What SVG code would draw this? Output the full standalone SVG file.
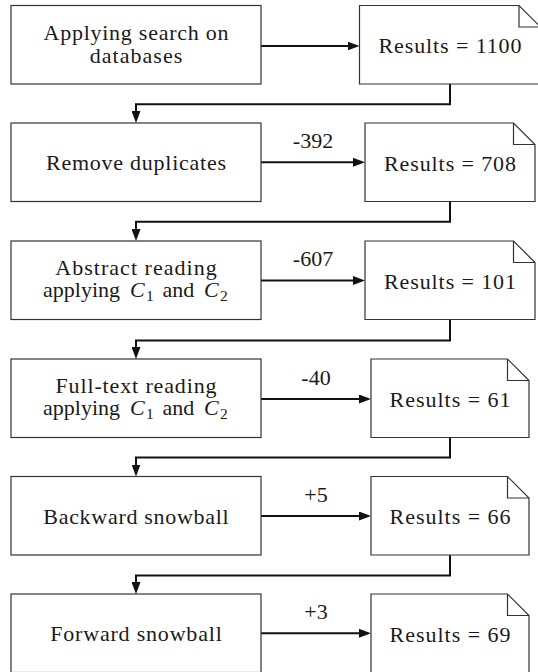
<svg xmlns="http://www.w3.org/2000/svg" width="538" height="672" viewBox="0 0 538 672">
  <style>
    .box { fill: #ffffff; stroke: #333333; stroke-width: 1.2; }
    .doc { fill: #ffffff; stroke: #333333; stroke-width: 1.2; stroke-linejoin: miter; }
    .fold { fill: none; stroke: #333333; stroke-width: 1.2; }
    .wire { fill: none; stroke: #111111; stroke-width: 2; marker-end: url(#head); }
    .t { font-family: "Liberation Serif", Tinos, "Noto Serif", "DejaVu Serif", Times, serif; font-size: 22px; fill: #1a1a1a; }
    .mid { text-anchor: middle; }
    .it { font-style: italic; }
    .sub { font-size: 15.5px; }
  </style>
  <defs>
    <marker id="head" markerUnits="userSpaceOnUse" markerWidth="12" markerHeight="9" refX="2" refY="4.5" orient="auto">
      <path d="M0,0 L12,4.5 L0,9 z" fill="#111111"/>
    </marker>
  </defs>

  <rect width="538" height="672" fill="#ffffff"/>

  <!-- connectors -->
  <g id="connectors">
    <!-- process -> result -->
    <path class="wire" d="M261,46 H349.5"/>
    <path class="wire" d="M261,162.3 H355"/>
    <path class="wire" d="M261,280.5 H355"/>
    <path class="wire" d="M261,399 H361"/>
    <path class="wire" d="M261,516 H361"/>
    <path class="wire" d="M261,633.3 H361"/>
    <!-- result -> next process -->
    <path class="wire" d="M450,84 V104.3 H136 V113"/>
    <path class="wire" d="M450,201.5 V221.7 H136 V231"/>
    <path class="wire" d="M450,319.5 V340.5 H136 V349"/>
    <path class="wire" d="M450,437.5 V457.5 H136 V466.5"/>
    <path class="wire" d="M450,555 V575.5 H136 V584"/>
    <!-- edge labels -->
    <text class="t mid" x="313" y="148">-392</text>
    <text class="t mid" x="313" y="266">-607</text>
    <text class="t mid" x="316" y="384.5">-40</text>
    <text class="t mid" x="316" y="501.5">+5</text>
    <text class="t mid" x="316" y="618.8">+3</text>
  </g>

  <!-- row 1 -->
  <g id="search">
    <rect class="box" x="11" y="5.5" width="250" height="78.5"/>
    <text class="t mid" x="136" y="40" textLength="185">Applying search on</text>
    <text class="t mid" x="136" y="62.5" textLength="92.7">databases</text>
  </g>
  <g id="results-1100">
    <path class="doc" d="M359.5,5.5 H519 L540.5,27 V84 H359.5 Z"/>
    <path class="fold" d="M519,5.5 V27 H540.5"/>
    <text class="t mid" x="450" y="53" textLength="143">Results = 1100</text>
  </g>

  <!-- row 2 -->
  <g id="duplicates">
    <rect class="box" x="11" y="123" width="250" height="78.5"/>
    <text class="t mid" x="136" y="170" textLength="180">Remove duplicates</text>
  </g>
  <g id="results-708">
    <path class="doc" d="M365,123 H513.5 L535,144.5 V201.5 H365 Z"/>
    <path class="fold" d="M513.5,123 V144.5 H535"/>
    <text class="t mid" x="450" y="170.5" textLength="132">Results = 708</text>
  </g>

  <!-- row 3 -->
  <g id="abstract">
    <rect class="box" x="11" y="241" width="250" height="78.5"/>
    <text class="t mid" x="136" y="274.5" textLength="161.5">Abstract reading</text>
    <text class="t" y="297"><tspan x="43">applying</tspan><tspan class="it" x="130">C</tspan><tspan class="sub" x="146" y="300.5">1</tspan><tspan x="162.5" y="297">and</tspan><tspan class="it" x="204">C</tspan><tspan class="sub" x="220" y="300.5">2</tspan></text>
  </g>
  <g id="results-101">
    <path class="doc" d="M365,241 H513.5 L535,262.5 V319.5 H365 Z"/>
    <path class="fold" d="M513.5,241 V262.5 H535"/>
    <text class="t mid" x="450" y="288.5" textLength="132">Results = 101</text>
  </g>

  <!-- row 4 -->
  <g id="fulltext">
    <rect class="box" x="11" y="359" width="250" height="78.5"/>
    <text class="t mid" x="136" y="392.5" textLength="161">Full-text reading</text>
    <text class="t" y="415"><tspan x="43">applying</tspan><tspan class="it" x="130">C</tspan><tspan class="sub" x="146" y="418.5">1</tspan><tspan x="162.5" y="415">and</tspan><tspan class="it" x="204">C</tspan><tspan class="sub" x="220" y="418.5">2</tspan></text>
  </g>
  <g id="results-61">
    <path class="doc" d="M371,359 H507.5 L529,380.5 V437.5 H371 Z"/>
    <path class="fold" d="M507.5,359 V380.5 H529"/>
    <text class="t mid" x="450" y="406.5" textLength="121">Results = 61</text>
  </g>

  <!-- row 5 -->
  <g id="backward">
    <rect class="box" x="11" y="476.5" width="250" height="78.5"/>
    <text class="t mid" x="136" y="523.5" textLength="185.4">Backward snowball</text>
  </g>
  <g id="results-66">
    <path class="doc" d="M371,476.5 H507.5 L529,498 V555 H371 Z"/>
    <path class="fold" d="M507.5,476.5 V498 H529"/>
    <text class="t mid" x="450" y="524" textLength="121">Results = 66</text>
  </g>

  <!-- row 6 -->
  <g id="forward">
    <rect class="box" x="11" y="594" width="250" height="78.5"/>
    <text class="t mid" x="136" y="641" textLength="171.5">Forward snowball</text>
  </g>
  <g id="results-69">
    <path class="doc" d="M371,594 H507.5 L529,615.5 V672.5 H371 Z"/>
    <path class="fold" d="M507.5,594 V615.5 H529"/>
    <text class="t mid" x="450" y="641.5" textLength="121">Results = 69</text>
  </g>
</svg>
